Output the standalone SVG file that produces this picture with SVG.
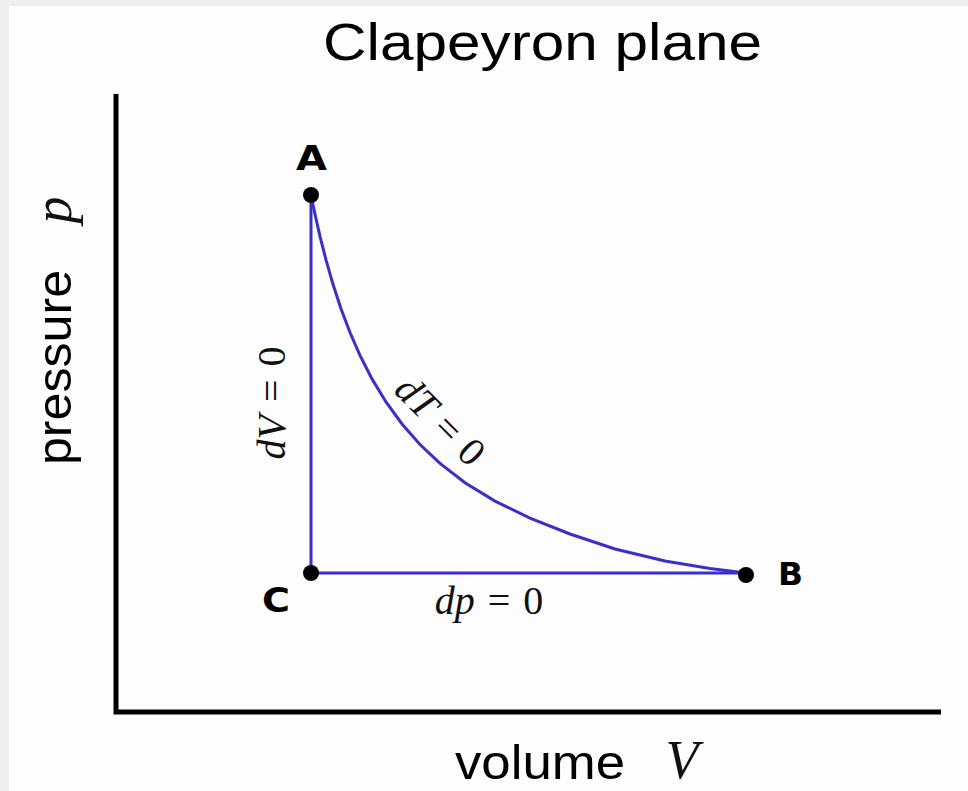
<svg xmlns="http://www.w3.org/2000/svg" width="968" height="791" viewBox="0 0 968 791">
<style>
.ax{stroke:#000;stroke-width:5;fill:none}
.pr{stroke:#3a2fc6;stroke-width:3;fill:none}
.dot{fill:#000}
.lbl{font-family:"DejaVu Sans","Liberation Sans",sans-serif;font-weight:bold;fill:#000}
.ss{font-family:"Liberation Sans",Arial,sans-serif;fill:#000}
.m{font-family:"Liberation Serif","Times New Roman",serif;fill:#111}
.it{font-style:italic}
</style>
<rect x="0" y="0" width="968" height="791" fill="#efefef"/>
<rect x="9" y="6" width="959" height="785" fill="#fdfdfd"/>
<text class="ss" x="323" y="60" font-size="52" textLength="439" lengthAdjust="spacingAndGlyphs">Clapeyron plane</text>
<g id="axes">
<path class="ax" d="M116,94 V712 H941"/>
</g>
<g id="axis-labels">
<text class="ss" x="455" y="779" font-size="48" textLength="170" lengthAdjust="spacingAndGlyphs">volume</text>
<text class="m it" x="682" y="778" font-size="54" text-anchor="middle">V</text>
<text class="ss" transform="translate(71,465) rotate(-90)" font-size="48" textLength="195" lengthAdjust="spacingAndGlyphs">pressure</text>
<text class="m it" transform="translate(71,210) rotate(-90)" font-size="54" text-anchor="middle">p</text>
</g>
<g id="connectors">
<path id="isotherm" class="pr" d="M311,195 L315,214.3 L320,236.3 L326,259.9 L333,284.3 L341,308.7 L350,332.5 L360,355.4 L372,378.9 L386,402 L402,424 L420,444.5 L440,463.4 L465,482.7 L495,501.1 L530,518.2 L570,534 L615,549 L665,561 L710,568.5 L746,573"/>
<path id="isochore" class="pr" d="M311,195 V573"/>
<path id="isobar" class="pr" d="M311,573 H746"/>
<text class="m" transform="translate(431,430) rotate(45)" font-size="40" text-anchor="middle"><tspan class="it">dT</tspan><tspan dx="12">=</tspan><tspan dx="12">0</tspan></text>
<text class="m" transform="translate(285,403) rotate(-90)" font-size="40" text-anchor="middle"><tspan class="it">dV</tspan><tspan dx="13">=</tspan><tspan dx="13">0</tspan></text>
<text class="m" x="489" y="614" font-size="40" text-anchor="middle"><tspan class="it">dp</tspan><tspan dx="13">=</tspan><tspan dx="13">0</tspan></text>
</g>
<g id="node-A">
<circle class="dot" cx="311" cy="195" r="8"/>
<text class="lbl" x="296" y="170" font-size="34" textLength="31" lengthAdjust="spacingAndGlyphs">A</text>
</g>
<g id="node-B">
<circle class="dot" cx="746" cy="575" r="8"/>
<text class="lbl" x="778" y="585" font-size="32" textLength="25" lengthAdjust="spacingAndGlyphs">B</text>
</g>
<g id="node-C">
<circle class="dot" cx="311" cy="573" r="8"/>
<text class="lbl" x="262" y="612" font-size="33" textLength="28" lengthAdjust="spacingAndGlyphs">C</text>
</g>
</svg>
